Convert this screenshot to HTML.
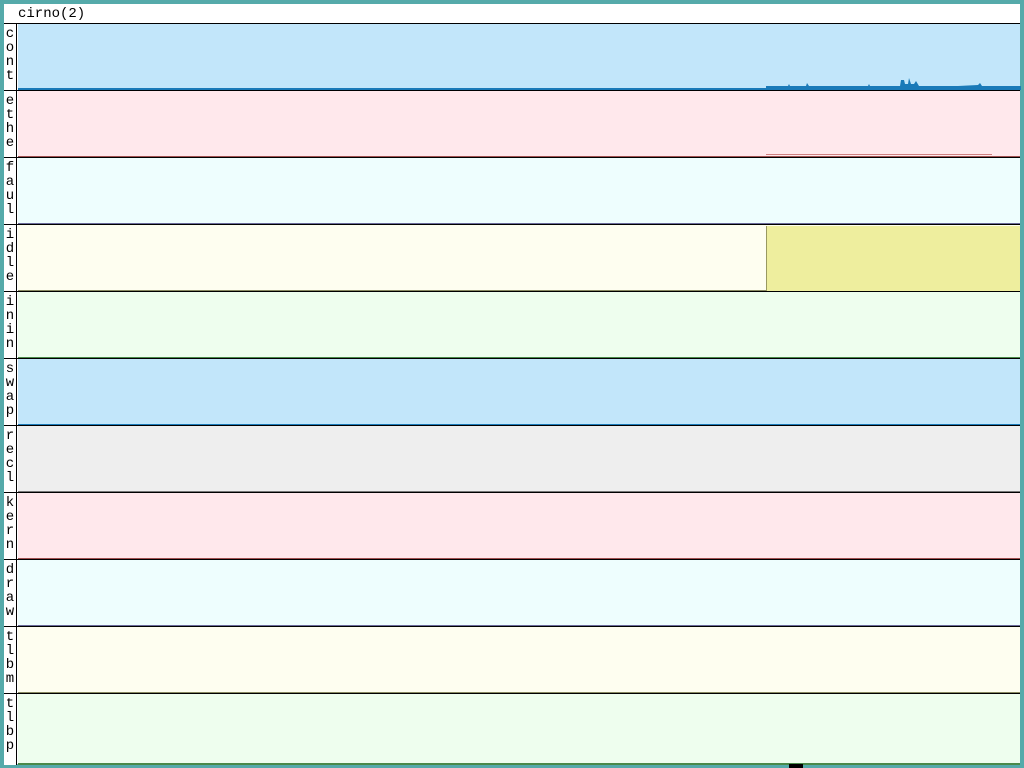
<!DOCTYPE html>
<html><head><meta charset="utf-8"><style>
body{margin:0;width:1024px;height:768px;background:#55aaaa;position:relative;overflow:hidden;font-family:"Liberation Mono",monospace;}
#win{position:absolute;left:4px;top:4px;width:1016px;height:760px;background:#fff;}
.t{position:absolute;left:14px;top:1px;font-size:14px;line-height:18px;color:#000;}
.row{position:absolute;left:0;width:1016px;border-top:1px solid #000;}
.lab{position:absolute;left:0;top:0;width:13px;height:100%;border-right:1px solid #000;background:#fff;font-size:14px;line-height:14px;text-align:center;padding-top:3px;box-sizing:border-box;color:#000}
.g{position:absolute;left:14px;top:0;right:0;bottom:0;}
.b{position:absolute;left:0;right:0;bottom:0;height:2px;}
</style></head><body>
<div id="win">
<div class="t">cirno(2)</div>

<div class="row" style="top:19px;height:66px"><div class="lab">c<br>o<br>n<br>t</div><div class="g" style="background:#c2e6fa"><div class="b" style="background:#1a7ab8"></div>
<svg style="position:absolute;left:0;top:0" width="1003" height="66"><path d="M748 64 L748 62 L770 62 L771 60 L772 62 L788 62 L789 59 L791 62 L850 62 L851 60 L852 62 L882 62 L883 56 L886 56 L887 60 L890 60 L891 54 L893 60 L896 60 L898 57 L901 62 L940 62 L960 61 L962 59 L964 62 L1003 62 L1003 66 L748 66Z" fill="#1a7ab8"/></svg></div></div>

<div class="row" style="top:86px;height:67px"><div class="lab">e<br>t<br>h<br>e</div><div class="g" style="background:#ffe8ec"><div class="b" style="background:#a05050"></div><div style="position:absolute;left:748px;width:226px;bottom:1px;height:3px;border-top:1px solid #d08080;box-sizing:border-box"></div></div></div>

<div class="row" style="top:153px;height:67px"><div class="lab">f<br>a<br>u<br>l</div><div class="g" style="background:#eefefe"><div class="b" style="background:#6a6a9a"></div></div></div>

<div class="row" style="top:220px;height:67px"><div class="lab">i<br>d<br>l<br>e</div><div class="g" style="background:#fefef0"><div class="b" style="background:#888860"></div><div style="position:absolute;left:748px;right:0;top:1px;bottom:0;background:#eeee9e;border-left:1px solid #999960"></div></div></div>

<div class="row" style="top:287px;height:67px"><div class="lab">i<br>n<br>i<br>n</div><div class="g" style="background:#eefeee"><div class="b" style="background:#4a8a4a"></div></div></div>

<div class="row" style="top:354px;height:67px"><div class="lab">s<br>w<br>a<br>p</div><div class="g" style="background:#c2e6fa"><div class="b" style="background:#1a7ab8"></div></div></div>

<div class="row" style="top:421px;height:67px"><div class="lab">r<br>e<br>c<br>l</div><div class="g" style="background:#eeeeee"><div class="b" style="background:#777"></div></div></div>

<div class="row" style="top:488px;height:67px"><div class="lab">k<br>e<br>r<br>n</div><div class="g" style="background:#ffe8ec"><div class="b" style="background:#a05050"></div></div></div>

<div class="row" style="top:555px;height:67px"><div class="lab">d<br>r<br>a<br>w</div><div class="g" style="background:#eefefe"><div class="b" style="background:#6a6a9a"></div></div></div>

<div class="row" style="top:622px;height:67px"><div class="lab">t<br>l<br>b<br>m</div><div class="g" style="background:#fefef0"><div class="b" style="background:#888860"></div></div></div>

<div class="row" style="top:689px;height:71px"><div class="lab">t<br>l<br>b<br>p</div><div class="g" style="background:#eefeee"><div class="b" style="background:#4a8a4a"></div></div></div>
</div>
<div style="position:absolute;left:789px;top:764px;width:14px;height:4px;background:#000"></div>
</body></html>
